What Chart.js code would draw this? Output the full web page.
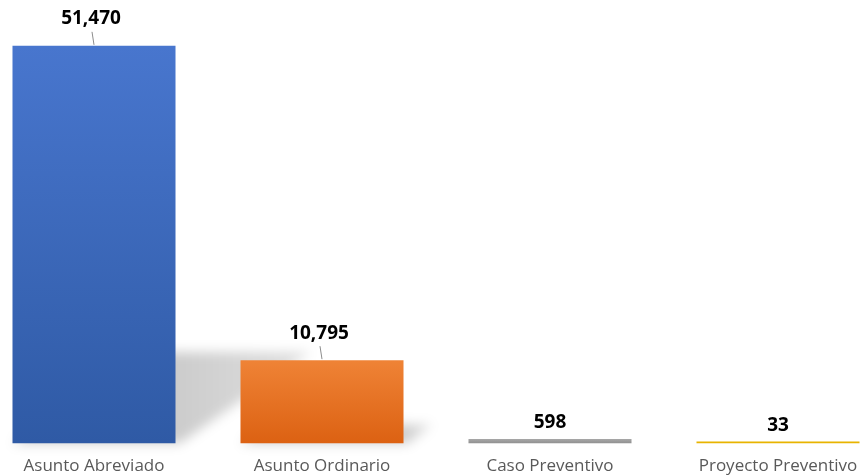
<!DOCTYPE html>
<html>
<head>
<meta charset="utf-8">
<script src="https://cdn.jsdelivr.net/npm/chart.js@4/dist/chart.umd.min.js"></script>
<style>
  html, body { margin: 0; padding: 0; background: #fff; overflow: hidden; width: 860px; height: 476px; }
  #wrap { position: absolute; left: -20px; top: 0; width: 912px; height: 488px; }
</style>
</head>
<body>
<div id="wrap"><canvas id="casosChart"></canvas></div>
<script>
// Data
const categorias = ["Asunto Abreviado", "Asunto Ordinario", "Caso Preventivo", "Proyecto Preventivo"];
const valores = [51470, 10795, 598, 33];
const coloresTop = ["#4876ce", "#ef8336", "#a8a8a8", "#e8b400"];
const coloresBottom = ["#2f5aa5", "#dc6112", "#8e8e8e", "#e0ac00"];

// gradient per bar, top to bottom
function barGradient(ctx) {
  const chart = ctx.chart;
  const i = ctx.dataIndex === undefined ? 0 : ctx.dataIndex;
  const y = chart.scales.y;
  if (!y) return coloresTop[i];
  const top = y.getPixelForValue(valores[i]);
  const bottom = y.getPixelForValue(0);
  if (!isFinite(top) || !isFinite(bottom) || bottom - top < 1) return coloresTop[i];
  const g = chart.ctx.createLinearGradient(0, top, 0, bottom);
  g.addColorStop(0, coloresTop[i]);
  g.addColorStop(1, coloresBottom[i]);
  return g;
}

// skewed soft shadow behind the tall bars
const shadowPlugin = {
  id: "barShadow",
  beforeDatasetsDraw(chart) {
    const ctx = chart.ctx;
    const bars = chart.getDatasetMeta(0).data;
    bars.forEach((bar, i) => {
      const h = bar.base - bar.y;
      if (h < 20) return;
      const left = bar.x - bar.width / 2;
      const right = bar.x + bar.width / 2;
      const topY = bar.base - h * 0.23;
      const shift = h * 0.34;
      ctx.save();
      ctx.filter = "blur(6px)";
      const g = ctx.createLinearGradient(right, 0, right + shift, 0);
      g.addColorStop(0, "rgba(0,0,0,0.2)");
      g.addColorStop(1, "rgba(0,0,0,0.12)");
      ctx.fillStyle = g;
      ctx.beginPath();
      ctx.moveTo(left, bar.base);
      ctx.lineTo(left + shift, topY);
      ctx.lineTo(right + shift, topY);
      ctx.lineTo(right + 4, bar.base);
      ctx.closePath();
      ctx.fill();
      ctx.restore();
    });
  }
};

// value labels with small leader lines
const labelPlugin = {
  id: "valueLabels",
  afterDatasetsDraw(chart) {
    const ctx = chart.ctx;
    const bars = chart.getDatasetMeta(0).data;
    ctx.save();
    ctx.font = "bold 19px 'Open Sans', sans-serif";
    ctx.fillStyle = "#000";
    ctx.textAlign = "center";
    ctx.textBaseline = "middle";
    bars.forEach((bar, i) => {
      const txt = valores[i].toLocaleString("en-US");
      const h = bar.base - bar.y;
      if (h > 30) {
        const ly = bar.y - 27;
        ctx.fillText(txt, bar.x - 3, ly);
        ctx.strokeStyle = "#8c8c8c";
        ctx.lineWidth = 1;
        ctx.beginPath();
        ctx.moveTo(bar.x - 2, ly + 13);
        ctx.lineTo(bar.x, bar.y - 1);
        ctx.stroke();
      } else {
        ctx.fillText(txt, bar.x, bar.y - 16);
      }
    });
    ctx.restore();
  }
};

const casosData = {
  labels: categorias,
  datasets: [
    {
      label: "Casos",
      data: valores,
      backgroundColor: barGradient,
      borderWidth: 0,
      categoryPercentage: 1,
      barPercentage: 0.715,
      minBarLength: 2,
    },
  ],
};

const casosConfig = {
  type: "bar",
  data: casosData,
  options: {
    responsive: true,
    maintainAspectRatio: false,
    animation: false,
    layout: { padding: { top: 0, bottom: 0, left: 0, right: 0 } },
    plugins: { legend: { display: false }, tooltip: { enabled: false } },
    scales: {
      x: {
        grid: { display: false, drawTicks: false },
        border: { display: false },
        ticks: {
          color: "#595959",
          font: { family: "'Open Sans', sans-serif", size: 17 },
          padding: 12,
        },
      },
      y: {
        display: false,
        min: 0,
        max: 57400,
      },
    },
  },
  plugins: [shadowPlugin, labelPlugin],
};

const casosChart = new Chart(document.getElementById("casosChart"), casosConfig);
</script>
</body>
</html>
